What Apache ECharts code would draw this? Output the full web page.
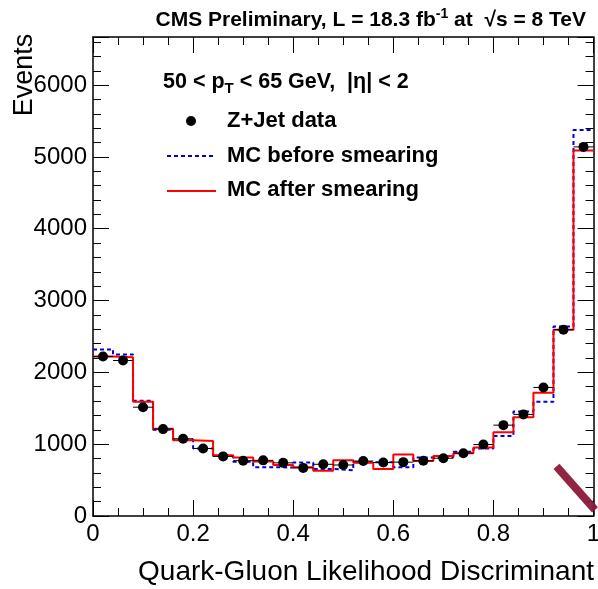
<!DOCTYPE html>
<html><head><meta charset="utf-8">
<script src="https://cdn.jsdelivr.net/npm/echarts@6/dist/echarts.min.js"></script>
<style>html,body{margin:0;padding:0;background:#fff}#c{width:598px;height:589px}</style>
</head><body><div id="c"></div>
<script>
// ---- data ----
const binWidth = 0.04;
const binCenters = [0.02,0.06,0.10,0.14,0.18,0.22,0.26,0.30,0.34,0.38,0.42,0.46,0.50,0.54,0.58,0.62,0.66,0.70,0.74,0.78,0.82,0.86,0.90,0.94,0.98];
const dataEvents = [2220,2165,1515,1210,1075,940,830,770,775,740,670,720,710,765,745,750,770,805,875,995,1265,1415,1790,2595,5140];
const mcBefore   = [2320,2250,1605,1200,1065,940,835,755,680,675,745,655,635,750,750,680,815,820,895,940,1115,1455,1590,2640,5375];
const mcAfter    = [2220,2210,1590,1215,1055,1045,845,815,760,710,680,630,775,740,655,855,765,835,875,955,1165,1375,1715,2595,5088];
const artifactStroke = [[0.926,690],[1.003,84]];
const yMax = 6670;

const FONT = '"Liberation Sans", Arial, Helvetica, sans-serif';
const stepData = vals => {
  const d = binCenters.map((c,i) => [c - binWidth/2, vals[i]]);
  d.push([binCenters[binCenters.length-1] + binWidth/2, vals[vals.length-1]]);
  return d;
};
const tickStyle = {color:'#000', width:1};
function xAx(pos, labels){
  return {type:'value', min:0, max:1, interval:0.2, position:pos,
    axisLine:{show:true, onZero:false, lineStyle:{color:'#000', width:1.5}},
    axisTick:{show:true, inside:true, length:16, lineStyle:tickStyle},
    minorTick:{show:true, splitNumber:4, length:8, lineStyle:tickStyle},
    splitLine:{show:false}, minorSplitLine:{show:false},
    axisLabel:{show:labels, fontFamily:FONT, fontSize:24, color:'#000', margin:6}};
}
function yAx(pos, labels){
  return {type:'value', min:0, max:yMax, interval:1000, position:pos,
    axisLine:{show:true, onZero:false, lineStyle:{color:'#000', width:1.5}},
    axisTick:{show:true, inside:true, length:16, lineStyle:tickStyle},
    minorTick:{show:true, splitNumber:5, length:8, lineStyle:tickStyle},
    splitLine:{show:false}, minorSplitLine:{show:false},
    axisLabel:{show:labels, fontFamily:FONT, fontSize:24, color:'#000', margin:6,
      formatter: v => (v % 1000 === 0 ? String(v) : '')}};
}
const chart = echarts.init(document.getElementById('c'), null, {renderer:'canvas'});
const bold = (size) => ({fontFamily:FONT, fontWeight:'bold', fontSize:size, fill:'#000'});
chart.setOption({
  animation:false,
  backgroundColor:'#fff',
  grid:{left:93, right:4.5, top:37, bottom:73, containLabel:false, outerBoundsMode:'none'},
  xAxis:[xAx('bottom', true), xAx('top', false)],
  yAxis:[yAx('left', true), yAx('right', false)],
  series:[
    {type:'line', name:'MC before smearing', step:'end', data:stepData(mcBefore), symbol:'none',
     lineStyle:{color:'#0000dd', width:2, type:[4,3]}, z:2},
    {type:'line', name:'MC after smearing', step:'end', data:stepData(mcAfter), symbol:'none',
     lineStyle:{color:'#ff0000', width:2}, z:3},
    {type:'custom', name:'xerr', z:4,
     data: binCenters.map((c,i) => [c, dataEvents[i]]),
     encode:{x:0, y:1},
     renderItem:(params, api) => {
       const x = api.value(0), y = api.value(1);
       const p1 = api.coord([x - binWidth/2, y]), p2 = api.coord([x + binWidth/2, y]);
       return {type:'line', shape:{x1:p1[0], y1:p1[1], x2:p2[0], y2:p2[1]}, style:{stroke:'#000', lineWidth:1}};
     }},
    {type:'scatter', name:'Z+Jet data', data: binCenters.map((c,i) => [c, dataEvents[i]]),
     symbol:'circle', symbolSize:10, itemStyle:{color:'#000', opacity:1}, z:5},
    {type:'line', name:'artifact', data:artifactStroke, symbol:'none', clip:false,
     lineStyle:{color:'#8b1a3a', width:8, opacity:0.95}, z:6}
  ],
  graphic:[
    {type:'text', x:586, y:20, style:Object.assign(bold(21), {
      text:'CMS Preliminary, L = 18.3 fb{sup|-1} at  √s = 8 TeV',
      align:'right', verticalAlign:'middle', textAlign:'right', textVerticalAlign:'middle',
      rich:{sup:{fontFamily:FONT, fontWeight:'bold', fontSize:14, fill:'#000', padding:[0,0,12,0]}}})},
    {type:'text', x:163, y:82, style:Object.assign(bold(21.5), {
      text:'50 < p{sub|T} < 65 GeV,  |η| < 2',
      align:'left', verticalAlign:'middle', textAlign:'left', textVerticalAlign:'middle',
      rich:{sub:{fontFamily:FONT, fontWeight:'bold', fontSize:15, fill:'#000', padding:[13,0,0,0]}}})},
    {type:'circle', shape:{cx:191, cy:121, r:5}, style:{fill:'#000'}},
    {type:'text', x:227, y:121, style:Object.assign(bold(22), {text:'Z+Jet data', align:'left', verticalAlign:'middle', textAlign:'left', textVerticalAlign:'middle'})},
    {type:'line', shape:{x1:167, y1:156, x2:216, y2:156}, style:{stroke:'#0000dd', lineWidth:2, lineDash:[4,3]}},
    {type:'text', x:227, y:156, style:Object.assign(bold(22), {text:'MC before smearing', align:'left', verticalAlign:'middle', textAlign:'left', textVerticalAlign:'middle'})},
    {type:'line', shape:{x1:167, y1:191, x2:216, y2:191}, style:{stroke:'#ff0000', lineWidth:2}},
    {type:'text', x:227, y:190, style:Object.assign(bold(22), {text:'MC after smearing', align:'left', verticalAlign:'middle', textAlign:'left', textVerticalAlign:'middle'})},
    {type:'text', x:594, y:572, style:{text:'Quark-Gluon Likelihood Discriminant', fontFamily:FONT, fontSize:28, fill:'#000',
      align:'right', verticalAlign:'middle', textAlign:'right', textVerticalAlign:'middle'}},
    {type:'text', x:25, y:75, rotation:Math.PI/2, style:{text:'Events', fontFamily:FONT, fontSize:27, fill:'#000',
      align:'center', verticalAlign:'middle', textAlign:'center', textVerticalAlign:'middle'}}
  ]
});
</script>
</body></html>
